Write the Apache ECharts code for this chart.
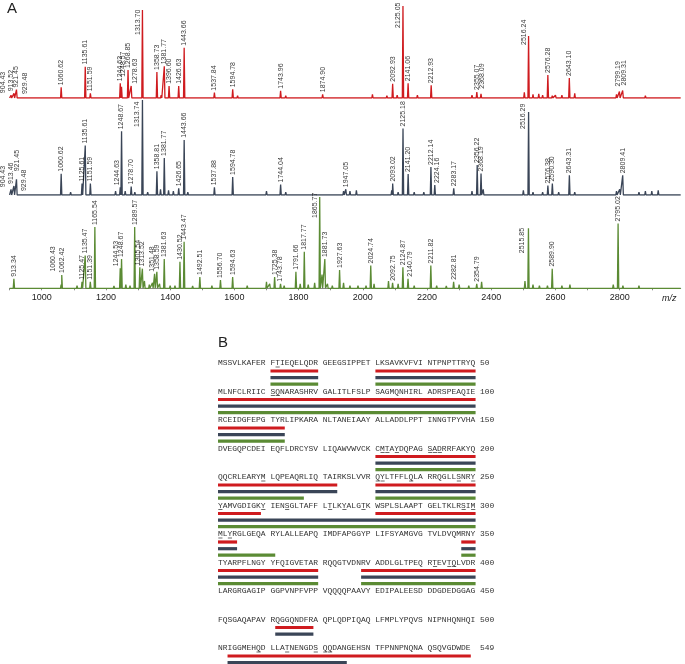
<!DOCTYPE html>
<html><head><meta charset="utf-8">
<script src="https://cdn.jsdelivr.net/npm/echarts@6/dist/echarts.min.js"></script>
<style>html,body{margin:0;padding:0;background:#fff}#c{width:685px;height:664px}</style>
</head><body><div id="c"></div>
<script>
// ---------- Panel A data (m/z, relative intensity %) ----------
const redPeaks = [[904.43,3],[913.52,5],[921.45,9],[929.48,2],[1060.62,11.5],[1135.61,33.7],[1151.59,5],
 [1244.63,15.8],[1248.57,12],[1268.85,30],[1278.63,13],[1313.70,94.6],[1358.73,28],[1381.77,34],[1396.60,13],
 [1426.63,13],[1443.66,54],[1537.84,5.7],[1594.78,9.3],[1743.96,7.8],[1874.90,4],[2092.93,15.4],[2125.05,99],
 [2141.06,15.8],[2212.93,13.6],[2355.07,6.5],[2368.09,4.6],[2516.24,66.7],[2576.28,24.7],[2643.10,21.5],
 [2799.19,7],[2809.31,8]];
const redMinor = [[1000,1.5],[1030,1],[1087,2],[1190,1.5],[1206,2],[1220,1.5],[1301,2],[1336,1.5],[1372,3],
 [1410,2],[1460,2],[1475,1.5],[1505,1],[1560,2],[1610,2.5],[1650,1.5],[1700,2],[1760,2.5],[1800,1.5],[1850,2],
 [1900,1.5],[1920,1.5],[1960,2],[2000,1.5],[2030,4],[2060,1.5],[2075,2.5],[2107,3],[2155,2],[2170,3],[2190,2],
 [2240,1.5],[2260,2],[2300,1.5],[2330,2],[2340,3],[2380,2],[2400,1.5],[2450,1.5],[2490,2],[2503,6],[2530,4],
 [2548,4.5],[2560,3],[2590,2.5],[2600,3],[2620,3],[2660,5],[2700,2],[2730,2],[2760,2],[2790,4],[2850,2],
 [2880,2.5],[2920,1.5],[2950,1.5]];
const darkPeaks = [[904.43,6],[913.46,9.5],[921.45,16.5],[929.48,2],[1060.62,22.4],[1125.61,12],[1135.61,52],
 [1151.59,12],[1244.63,8],[1248.67,67],[1278.70,9],[1313.74,100],[1358.81,25],[1381.77,39],[1426.65,7],
 [1443.66,58],[1537.88,8],[1594.78,19],[1744.04,11],[1947.05,6],[2093.02,12],[2125.18,70],[2141.20,22],
 [2212.14,29.5],[2224.16,10.5],[2283.17,7],[2356.22,31.6],[2368.19,22.5],[2516.29,87.4],[2576.38,10],
 [2590.30,12],[2643.31,20.7],[2809.41,20.7]];
const darkMinor = [[1000,2],[1090,3],[1175,2],[1200,2],[1230,4],[1260,4],[1290,3],[1330,3],[1370,6],[1395,5],
 [1410,4],[1455,3],[1480,2],[1560,2],[1620,2],[1700,4],[1760,3],[1790,2],[1850,2],[1880,2],[1900,2],[1940,4],
 [1960,4],[1980,5],[2030,2],[2050,2],[2090,5],[2110,3],[2160,3],[2190,3],[2250,2],[2300,2],[2340,4],[2375,6],
 [2420,2],[2460,2],[2500,5],[2530,3],[2560,3],[2610,3],[2660,3],[2700,2],[2750,2],[2790,4],[2800,6],[2830,2],
 [2860,3],[2880,4],[2900,4],[2920,5],[2940,2],[2960,2]];
const greenPeaks = [[913.34,10.5],[1060.43,4],[1062.42,14.6],[1125.47,7],[1135.47,36],[1151.39,7],[1165.54,67],
 [1244.53,22],[1248.67,32],[1289.57,67],[1305.54,23],[1313.52,21.5],[1351.48,16],[1358.59,18],[1381.63,32],
 [1430.52,29],[1443.47,51],[1492.51,12.4],[1556.70,9],[1594.63,12.4],[1725.38,12.4],[1743.78,5],[1791.66,18],
 [1817.77,40],[1865.77,100],[1881.73,32],[1927.63,20],[2024.74,25],[2092.75,6],[2124.87,23],[2140.79,10.5],
 [2211.82,25],[2282.81,7],[2354.79,5],[2515.85,65.7],[2589.90,21.5],[2795.02,71]];
const greenMinor = [[1000,2],[1030,2],[1110,3],[1205,2],[1225,2.5],[1262,4],[1275,3],[1320,8],[1335,4],[1345,6],
 [1367,5],[1400,3],[1415,3],[1470,2.5],[1510,2],[1530,3],[1575,2],[1620,2],[1640,3],[1660,2],[1700,7],[1710,5],
 [1755,3],[1770,2],[1805,5],[1830,4],[1850,6],[1873,15],[1890,5],[1905,3],[1940,6],[1960,3],[1985,3],[2010,3],
 [2035,5],[2080,8],[2110,5],[2160,3],[2230,3],[2260,2.5],[2300,4],[2330,3],[2370,7],[2420,2],[2470,2],[2505,8],
 [2530,4],[2550,3],[2575,3],[2620,3],[2645,4],[2680,2],[2700,2],[2760,2],[2780,4],[2810,3],[2830,2],[2860,3],
 [2900,2],[2950,2]];
const mzTicks = [1000,1200,1400,1600,1800,2000,2200,2400,2600,2800];

// ---------- Panel B data ----------
const seqRows = [
 'MSSVLKAFER FTIEQELQDR GEEGSIPPET LKSAVKVFVI NTPNPTTRYQ',
 'MLNFCLRIIC SQNARASHRV GALITLFSLP SAGMQNHIRL ADRSPEAQIE',
 'RCEIDGFEPG TYRLIPKARA NLTANEIAAY ALLADDLPPT INNGTPYVHA',
 'DVEGQPCDEI EQFLDRCYSV LIQAWVWVCK CMTAYDQPAG SADRRFAKYQ',
 'QQCRLEARYM LQPEAQRLIQ TAIRKSLVVR QYLTFFLQLA RRQGLLSNRY',
 'YAMVGDIGKY IENSGLTAFF LTLKYALGTK WSPLSLAAPT GELTKLRSIM',
 'MLYRGLGEQA RYLALLEAPQ IMDFAPGGYP LIFSYAMGVG TVLDVQMRNY',
 'TYARPFLNGY YFQIGVETAR RQQGTVDNRV ADDLGLTPEQ RTEVTQLVDR',
 'LARGRGAGIP GGPVNPFVPP VQQQQPAAVY EDIPALEESD DDGDEDGGAG',
 'FQSGAQAPAV RQGGQNDFRA QPLQDPIQAQ LFMPLYPQVS NIPNHQNHQI',
 'NRIGGMEHQD LLATNENGDS QQDANGEHSN TFPNNPNQNA QSQVGDWDE'];
const rowEnds = [50,100,150,200,250,300,350,400,450,500,549];
const coverRed = [[11,20],[31,50],[51,100],[101,113],[181,200],[201,223],[231,250],[251,259],[281,300],
 [301,304],[348,350],[351,370],[379,400],[462,469],[503,549]];
const coverDark = [[11,20],[31,50],[51,100],[101,113],[181,200],[201,223],[231,250],[251,300],[301,304],
 [348,350],[351,370],[379,400],[462,469],[503,525]];
const coverGreen = [[11,20],[31,50],[51,100],[101,113],[181,200],[201,217],[231,250],[251,300],[301,311],
 [348,350],[351,370],[379,400]];
const underlined = [12,61,62,182,183,185,191,192,193,210,231,232,238,247,250,251,260,264,272,275,279,298,300,
 301,303,392,395,396,509,514,520,521,522];

// ---------- styling / helpers ----------
const C_RED = '#cf1b1f', C_DARK = '#3a4557', C_GREEN = '#5b8b34';
// screen-space label nudges [dx right, dy down]
const nudges = [
 {'904.43':[-8,0],'913.52':[-3,0],'929.48':[6,0],'1248.57':[2,-8],'1278.63':[4,0],'1313.70':[-4,27],
  '2125.05':[-5,24],'2516.24':[-5,11],'2368.09':[1,-3],'2799.19':[-1,-3],'2809.31':[1,-3]},
 {'904.43':[-8,0],'913.46':[-3,0],'921.45':[1,-6],'929.48':[5,0],'1244.63':[-3,0],'1313.74':[-5,29],
  '2516.29':[-6,19],'2224.16':[2,0]},
 {'1060.43':[-8,-11],'1244.53':[-4,0],'1305.54':[-2,0],'1351.48':[-3,0],'1865.77':[-5,23],'2515.85':[-6,27],
  '2140.79':[2,0]}
];
function spectrum(peaks, minor) {
  const all = peaks.concat(minor).sort((a, b) => a[0] - b[0]);
  const pts = [[900, 0]];
  all.forEach(p => { pts.push([p[0] - 2, 0], [p[0], p[1]], [p[0] + 2, 0]); });
  pts.push([2990, 0]);
  return pts;
}
function colOf(r) { const c = (r - 1) % 50; return c + Math.floor(c / 10); }
function rowOf(r) { return Math.floor((r - 1) / 50); }
function coverSegs(ranges, s) {
  const out = [];
  ranges.forEach(([a, b]) => {
    let start = a;
    while (start <= b) {
      const row = rowOf(start);
      const end = Math.min(b, (row + 1) * 50);
      out.push([colOf(start), row, colOf(end) + 1, s]);
      start = end + 1;
    }
  });
  return out;
}
const rowText = seqRows.map((s, i) => s.padEnd(54, ' ') + ' ' + rowEnds[i]);
const grids = [
  {left: 9.6, width: 671.1, top: 5, height: 93},
  {left: 9.6, width: 671.1, top: 100, height: 95},
  {left: 9.6, width: 671.1, top: 197, height: 91.3},
  {left: 218, width: 262.35, top: 363, height: 285}
];
const specs = [[redPeaks, redMinor, C_RED], [darkPeaks, darkMinor, C_DARK], [greenPeaks, greenMinor, C_GREEN]];
const series = [];
specs.forEach(([pk, mn, col], i) => {
  series.push({type: 'line', xAxisIndex: i, yAxisIndex: i, data: spectrum(pk, mn), symbol: 'none',
    lineStyle: {color: col, width: 1.3}, silent: true, z: 2});
  series.push({type: 'scatter', xAxisIndex: i, yAxisIndex: i, data: pk.map(p => ({value: p})),
    symbolSize: 0.1, itemStyle: {color: 'rgba(0,0,0,0)'}, silent: true, z: 5,
    label: {show: true, position: 'top', distance: 2, rotate: 90, align: 'left', verticalAlign: 'middle',
      fontSize: 7, fontFamily: 'Liberation Sans', color: '#000',
      formatter: p => p.value[0].toFixed(2)},
    // labelLayout offsets act in the rotated label frame: local x = screen up, local y = screen right
    labelLayout: p => { const n = nudges[i][pk[p.dataIndex][0].toFixed(2)]; return n ? {dx: -n[1], dy: n[0]} : {}; }
  });
});
// Panel B sequence text
series.push({type: 'custom', xAxisIndex: 3, yAxisIndex: 3, silent: true,
  data: rowText.map((t, i) => [0, i]),
  renderItem: (params, api) => {
    const p = api.coord([api.value(0), api.value(1)]);
    return {type: 'text', x: p[0], y: p[1], style: {text: rowText[params.dataIndex], fontSize: 7.95,
      fontFamily: 'Liberation Mono', fill: '#333', align: 'left', verticalAlign: 'middle'}};
  }});
// coverage bars
const barCols = [C_RED, C_DARK, C_GREEN], barOff = [8, 14.7, 21.2];
const segs = coverSegs(coverRed, 0).concat(coverSegs(coverDark, 1), coverSegs(coverGreen, 2));
series.push({type: 'custom', xAxisIndex: 3, yAxisIndex: 3, silent: true, data: segs,
  renderItem: (params, api) => {
    const a = api.coord([api.value(0), api.value(1)]);
    const b = api.coord([api.value(2), api.value(1)]);
    const s = api.value(3);
    return {type: 'rect', shape: {x: a[0], y: a[1] + barOff[s] - 1.6, width: b[0] - a[0], height: 3.2},
      style: {fill: barCols[s]}};
  }});
// underlines
series.push({type: 'custom', xAxisIndex: 3, yAxisIndex: 3, silent: true,
  data: underlined.map(r => [colOf(r), rowOf(r)]),
  renderItem: (params, api) => {
    const a = api.coord([api.value(0), api.value(1)]);
    const b = api.coord([api.value(0) + 1, api.value(1)]);
    return {type: 'rect', shape: {x: a[0] + 0.3, y: a[1] + 3.6, width: b[0] - a[0] - 0.6, height: 0.8},
      style: {fill: '#444'}};
  }});

const xAxes = [0, 1, 2].map(i => ({gridIndex: i, type: 'value', min: 900, max: 2990, interval: 100,
  show: i === 2, splitLine: {show: false},
  axisLine: {show: true, lineStyle: {color: '#8a8a8a', width: 1}},
  axisTick: {show: true, length: 2, lineStyle: {color: '#8a8a8a'}},
  axisLabel: {show: true, fontSize: 9, fontFamily: 'Liberation Sans', color: '#222', margin: 5,
    showMinLabel: true, showMaxLabel: false,
    formatter: v => (mzTicks.indexOf(v) >= 0 ? String(v) : '')}}));
xAxes.push({gridIndex: 3, type: 'value', min: 0, max: 55, show: false});
const yAxes = [0, 1, 2].map(i => ({gridIndex: i, type: 'value', min: 0, max: 100, show: false}));
yAxes.push({gridIndex: 3, type: 'value', min: 0, max: 10, inverse: true, show: false});

const chart = echarts.init(document.getElementById('c'), null, {renderer: 'canvas'});
chart.setOption({
  animation: false,
  backgroundColor: '#fff',
  grid: grids.map(g => Object.assign({outerBoundsMode: 'none', containLabel: false}, g)),
  xAxis: xAxes, yAxis: yAxes, series: series,
  graphic: [
    {type: 'text', left: 7, top: 1, style: {text: 'A', fontSize: 15, fontFamily: 'Liberation Sans', fill: '#222'}},
    {type: 'text', left: 218, top: 335, style: {text: 'B', fontSize: 15, fontFamily: 'Liberation Sans', fill: '#222'}},
    {type: 'text', left: 662, top: 294, style: {text: 'm/z', fontSize: 9, fontStyle: 'italic', fontFamily: 'Liberation Sans', fill: '#222'}}
  ]
});
</script></body></html>
